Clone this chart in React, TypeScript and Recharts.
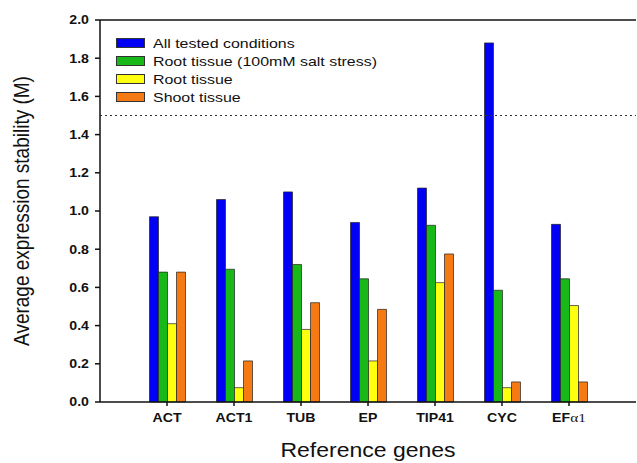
import { BarChart, Bar, XAxis, YAxis, ReferenceLine } from 'recharts';

const genes = ['ACT', 'ACT1', 'TUB', 'EP', 'TIP41', 'CYC', 'EFα1'];
const allConditions = [0.97, 1.06, 1.1, 0.94, 1.12, 1.88, 0.93];
const rootSalt = [0.68, 0.695, 0.72, 0.645, 0.925, 0.585, 0.645];
const rootTissue = [0.41, 0.075, 0.38, 0.215, 0.625, 0.075, 0.505];
const shootTissue = [0.68, 0.215, 0.52, 0.485, 0.775, 0.105, 0.105];
const yTicks = [0, 0.2, 0.4, 0.6, 0.8, 1.0, 1.2, 1.4, 1.6, 1.8, 2.0];

const series = [
  { key: 'all', name: 'All tested conditions', color: '#0000F5' },
  { key: 'salt', name: 'Root tissue (100mM salt stress)', color: '#18B818' },
  { key: 'root', name: 'Root tissue', color: '#FFFF10' },
  { key: 'shoot', name: 'Shoot tissue', color: '#F57A14' },
];

const data = genes.map((gene, i) => ({
  gene,
  all: allConditions[i],
  salt: rootSalt[i],
  root: rootTissue[i],
  shoot: shootTissue[i],
}));

const FONT = 'Liberation Sans, Arial, sans-serif';
const SERIF = 'Liberation Serif, serif';
// the source figure is a bit wider than tall, text looks stretched sideways
const SX = 1.18;

function GeneTick({ x, y, payload }: any) {
  const label: string = payload.value;
  const parts = label.split('α');
  return (
    <text
      transform={`translate(${x},${y}) scale(${SX},1)`}
      dy="0.71em"
      textAnchor="middle"
      fontFamily={FONT}
      fontSize={12}
      fontWeight="bold"
      fill="#111"
    >
      {parts.length > 1 ? (
        <>
          <tspan>{parts[0]}</tspan>
          <tspan fontFamily={SERIF} fontWeight="normal" fontSize={13}>α1</tspan>
        </>
      ) : (
        label
      )}
    </text>
  );
}

function ValueTick({ x, y, payload }: any) {
  return (
    <text
      transform={`translate(${x},${y}) scale(${SX},1)`}
      dy="0.36em"
      textAnchor="end"
      fontFamily={FONT}
      fontSize={12}
      fontWeight="bold"
      fill="#111"
    >
      {Number(payload.value).toFixed(1)}
    </text>
  );
}

function XTitle({ viewBox }: any) {
  const cx = viewBox.x + viewBox.width / 2;
  const cy = viewBox.y + viewBox.height - 6;
  return (
    <text transform={`translate(${cx},${cy}) scale(${SX},1)`} textAnchor="middle" fontFamily={FONT} fontSize={19.5} fill="#111">
      Reference genes
    </text>
  );
}

function YTitle({ viewBox }: any) {
  const cx = 29;
  const cy = viewBox.y + viewBox.height / 2;
  return (
    <text
      transform={`translate(${cx},${cy}) scale(${SX},1) rotate(-90)`}
      textAnchor="middle"
      fontFamily={FONT}
      fontSize={19}
      fill="#111"
    >
      Average expression stability (M)
    </text>
  );
}

// legend drawn over the plot, top-left inside the frame
function LegendBox() {
  return (
    <div style={{ position: 'absolute', left: 116, top: 34, fontFamily: FONT, fontSize: 13.5, color: '#111' }}>
      {series.map((s) => (
        <div key={s.key} style={{ display: 'flex', alignItems: 'center', height: 18 }}>
          <span
            style={{
              display: 'inline-block',
              width: 27,
              height: 8,
              background: s.color,
              border: '1px solid #333',
              marginRight: 8,
            }}
          />
          <span style={{ display: 'inline-block', transform: `scaleX(${SX})`, transformOrigin: 'left center', whiteSpace: 'nowrap' }}>
            {s.name}
          </span>
        </div>
      ))}
    </div>
  );
}

export default function App() {
  return (
    <div style={{ position: 'fixed', left: 0, top: 0, width: 637, height: 463, background: '#fff' }}>
      <BarChart
        width={637}
        height={463}
        data={data}
        margin={{ top: 20, right: 1, bottom: 0, left: 0 }}
        barCategoryGap={16}
        barGap={0}
      >
        <XAxis
          dataKey="gene"
          height={61}
          interval={0}
          padding={{ left: 33.5, right: 33.5 }}
          tick={<GeneTick />}
          tickSize={4}
          tickMargin={7}
          stroke="#111"
          strokeWidth={1.5}
          label={<XTitle />}
        />
        <YAxis
          width={100}
          domain={[0, 2]}
          ticks={yTicks}
          tick={<ValueTick />}
          tickSize={5}
          tickMargin={6}
          stroke="#111"
          strokeWidth={1.5}
          label={<YTitle />}
        />
        <ReferenceLine y={2} stroke="#111" strokeWidth={1.5} />
        <ReferenceLine y={1.5} stroke="#333" strokeDasharray="2 3" strokeWidth={1} />
        {series.map((s) => (
          <Bar
            key={s.key}
            dataKey={s.key}
            name={s.name}
            fill={s.color}
            stroke="#222"
            strokeWidth={0.7}
            isAnimationActive={false}
          />
        ))}
      </BarChart>
      <LegendBox />
    </div>
  );
}
